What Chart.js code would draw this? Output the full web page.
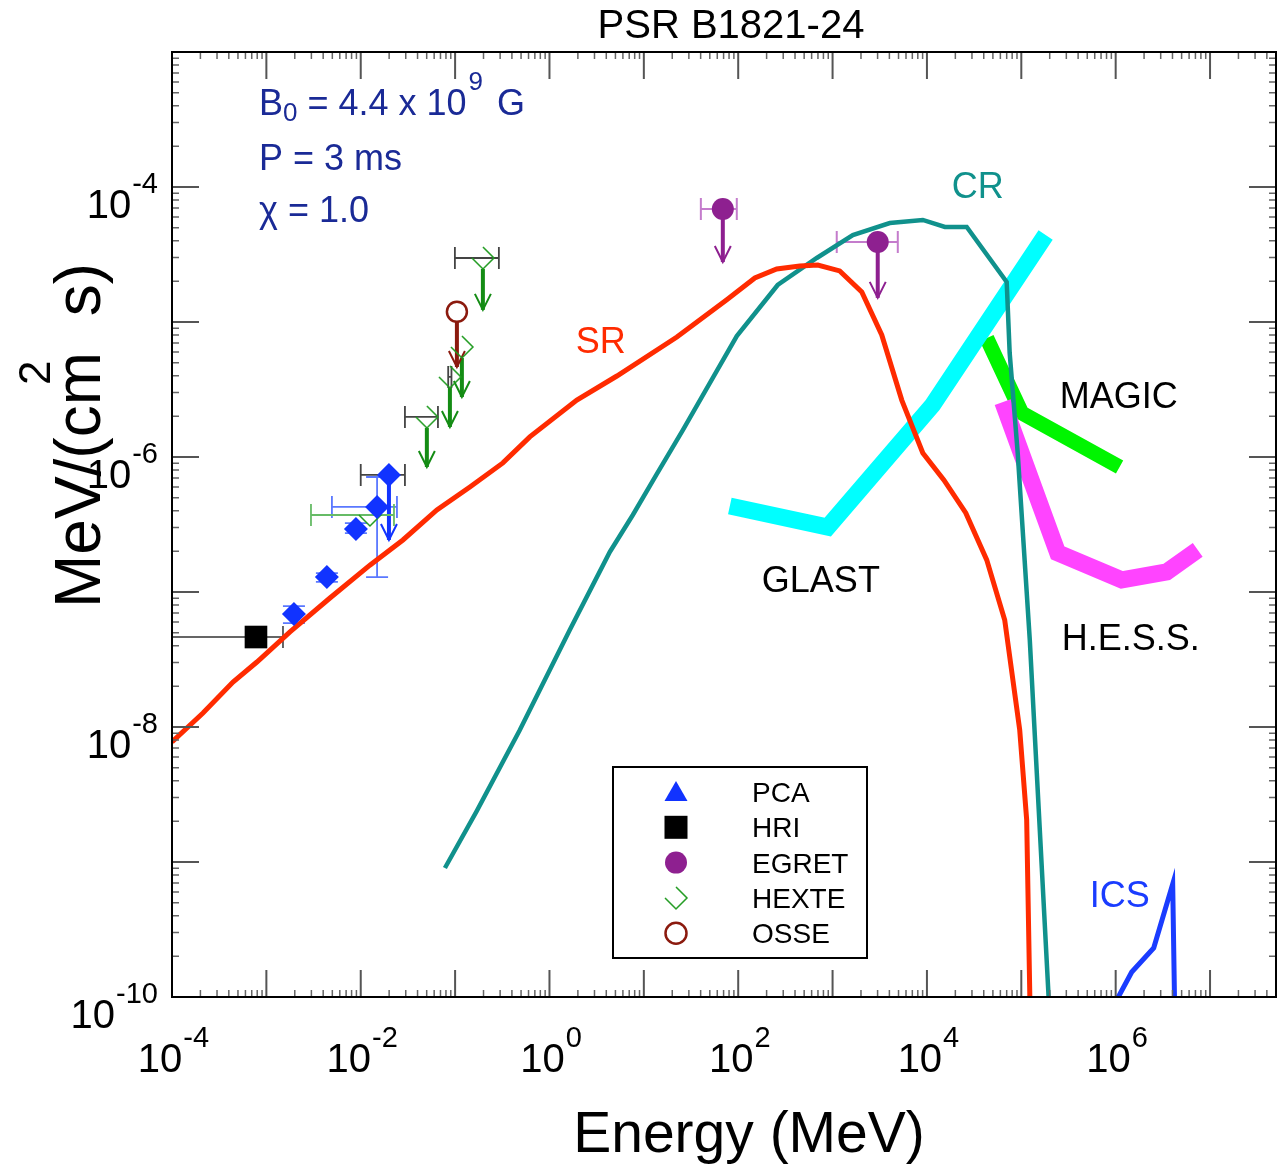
<!DOCTYPE html>
<html>
<head>
<meta charset="utf-8">
<title>PSR B1821-24</title>
<script src="https://cdn.jsdelivr.net/npm/chart.js@4.4.1/dist/chart.umd.min.js"></script>
<style>
  html, body { margin: 0; padding: 0; background: #fff; overflow: hidden; }
  canvas { display: block; }
</style>
</head>
<body>
<canvas id="sedChart" width="1278" height="1168"></canvas>
<script>
const FONT = '"Liberation Sans", Arial, Helvetica, sans-serif';

// energy in MeV, flux in MeV/(cm^2 s)
const srEnergy = [1.0e-4, 2.13e-4, 4.43e-4, 7.94e-4, 1.78e-3, 4.72e-3, 1.25e-2, 2.8e-2, 6.41e-2, 0.1435, 0.321, 0.619,
  1.95, 5.18, 22.4, 75.7, 150, 256, 450, 697, 1190, 2040, 3320, 5410, 9040, 1.51e4, 2.58e4, 4.3e4, 6.67e4, 9.62e4, 1.14e5, 1.26e5];
const srFlux = [7.74e-9, 1.27e-8, 2.15e-8, 3.03e-8, 5.06e-8, 9.03e-8, 1.58e-7, 2.43e-7, 4.05e-7, 6.0e-7, 9.04e-7, 1.41e-6,
  2.64e-6, 3.98e-6, 7.74e-6, 1.46e-5, 2.12e-5, 2.47e-5, 2.6e-5, 2.64e-5, 2.39e-5, 1.67e-5, 8.02e-6, 2.64e-6, 1.07e-6, 6.76e-7,
  3.85e-7, 1.73e-7, 6.21e-8, 9.5e-9, 2.05e-9, 4.1e-11];

const crEnergy = [0.078, 0.17, 0.485, 1.64, 4.36, 7.64, 13.7, 25.9, 53.8, 96.6, 262, 680, 1640, 4040, 9040, 1.55e4, 2.64e4,
  7.0e4, 7.53e4, 9.16e4, 1.23e5, 1.98e5];
const crFlux = [9.03e-10, 2.39e-9, 9.5e-9, 5.24e-8, 1.98e-7, 3.72e-7, 7.48e-7, 1.58e-6, 3.85e-6, 7.87e-6, 1.88e-5, 2.98e-5,
  4.41e-5, 5.41e-5, 5.7e-5, 5.06e-5, 5.06e-5, 1.98e-5, 5.89e-6, 1.07e-6, 4.41e-8, 8e-11];

const icsEnergy = [1.0e6, 1.48e6, 2.53e6, 4.02e6, 4.22e6];
const icsFlux = [9.2e-11, 1.53e-10, 2.31e-10, 6.87e-10, 8e-11];

// telescope sensitivities
const glastEnergy = [81.5, 889, 1.15e4, 1.81e5];
const glastFlux = [4.34e-7, 3.03e-7, 2.43e-6, 4.41e-5];
const magicEnergy = [4.3e4, 1.01e5, 1.1e6];
const magicFlux = [7.6e-6, 2.12e-6, 8.43e-7];
const hessEnergy = [6.35e4, 2.43e5, 1.16e6, 3.47e6, 7.4e6];
const hessFlux = [2.55e-6, 1.95e-7, 1.23e-7, 1.41e-7, 2.05e-7];

// measurements (limit = tip of the upper-limit arrow)
const pcaEnergy = [1.96e-3, 4.38e-3, 8.89e-3, 1.49e-2, 1.99e-2];
const pcaFlux = [6.87e-8, 1.29e-7, 2.93e-7, 4.27e-7, 7.36e-7];
const pcaEnergyLo = [null, null, null, 4.95e-3, 1.0e-2];
const pcaEnergyHi = [null, null, null, 2.42e-2, 2.94e-2];
const pcaFluxLo = [5.89e-8, 1.19e-7, 2.73e-7, 1.29e-7, null];
const pcaFluxHi = [7.87e-8, 1.38e-7, 3.24e-7, 7.11e-7, null];
const pcaLimit = [null, null, null, null, 2.43e-7];

const hriEnergy = [7.76e-4];
const hriFlux = [4.64e-8];
const hriEnergyLo = [1.0e-4];
const hriEnergyHi = [1.5e-3];

const egretEnergy = [68.7, 3010];
const egretFlux = [6.87e-5, 3.92e-5];
const egretEnergyLo = [40.2, 1107];
const egretEnergyHi = [96.6, 4910];
const egretLimit = [2.78e-5, 1.51e-5];

const hexteEnergy = [0.197, 0.118, 0.0881, 0.0502, 0.0125];
const hexteFlux = [2.98e-5, 6.53e-6, 3.92e-6, 1.98e-6, 3.72e-7];
const hexteEnergyLo = [0.0995, null, 0.0845, 0.0294, 2.97e-3];
const hexteEnergyHi = [0.291, null, 0.0915, 0.0658, 0.0225];
const hexteLimit = [1.23e-5, 2.78e-6, 1.67e-6, 8.43e-7, null];

const osseEnergy = [0.1045];
const osseFlux = [1.19e-5];
const osseLimit = [4.64e-6];

// curve labels: [text, energy, flux at baseline]
const curveLabels = [
  ["SR", 1.9, 5.89e-6, "#ff2b00"],
  ["CR", 1.83e4, 8.3e-5, "#10918c"],
  ["MAGIC", 2.55e5, 2.31e-6, "#000"],
  ["GLAST", 178, 1.0e-7, "#000"],
  ["H.E.S.S.", 2.68e5, 3.72e-8, "#000"],
  ["ICS", 5.31e5, 4.64e-10, "#1a3cff"],
];

const xLabelExponents = [-4, -2, 0, 2, 4, 6];
const yLabelExponents = [-10, -8, -6, -4];

const curve = (xs, ys) => xs.map((x, i) => ({ x, y: ys[i] }));

const measured = (xs, ys, err) =>
  xs.map((x, i) => ({
    x,
    y: ys[i],
    xLo: err.xLo ? err.xLo[i] : null,
    xHi: err.xHi ? err.xHi[i] : null,
    yLo: err.yLo ? err.yLo[i] : null,
    yHi: err.yHi ? err.yHi[i] : null,
    limit: err.limit ? err.limit[i] : null,
  }));

// open diamond with its upper-left side missing
const hexteGlyph = (() => {
  const c = document.createElement("canvas");
  c.width = c.height = 26;
  const g = c.getContext("2d");
  g.strokeStyle = "#1f9a1f";
  g.lineWidth = 1.5;
  g.beginPath();
  g.moveTo(2, 13);
  g.lineTo(13, 24);
  g.lineTo(24, 13);
  g.lineTo(13, 2);
  g.stroke();
  return c;
})();

const lineSet = (label, xs, ys, color, width) => ({
  label,
  data: curve(xs, ys),
  showLine: true,
  borderColor: color,
  borderWidth: width,
  pointRadius: 0,
  fill: false,
  tension: 0,
  borderJoinStyle: "miter",
});

// error bars and upper-limit arrows, drawn under everything else
const errorBarPlugin = {
  id: "errorBars",
  beforeDatasetsDraw(chart) {
    const { ctx } = chart;
    const xs = chart.scales.x,
      ys = chart.scales.y;
    const cap = 11;

    chart.data.datasets.forEach((ds) => {
      const eb = ds.errorBars;
      if (!eb) return;
      ds.data.forEach((p) => {
        const px = xs.getPixelForValue(p.x),
          py = ys.getPixelForValue(p.y);
        ctx.save();
        ctx.lineWidth = eb.width;
        ctx.lineCap = "butt";

        if (p.xLo != null) {
          ctx.strokeStyle = p.limit != null ? eb.limitColor : eb.color;
          const x0 = xs.getPixelForValue(p.xLo),
            x1 = xs.getPixelForValue(p.xHi);
          ctx.beginPath();
          ctx.moveTo(x0, py);
          ctx.lineTo(x1, py);
          ctx.moveTo(x0, py - cap);
          ctx.lineTo(x0, py + cap);
          ctx.moveTo(x1, py - cap);
          ctx.lineTo(x1, py + cap);
          ctx.stroke();
        }
        if (p.yLo != null) {
          ctx.strokeStyle = eb.color;
          const y0 = ys.getPixelForValue(p.yLo),
            y1 = ys.getPixelForValue(p.yHi);
          ctx.beginPath();
          ctx.moveTo(px, y0);
          ctx.lineTo(px, y1);
          ctx.moveTo(px - cap, y0);
          ctx.lineTo(px + cap, y0);
          ctx.moveTo(px - cap, y1);
          ctx.lineTo(px + cap, y1);
          ctx.stroke();
        }
        if (p.limit != null) {
          const tip = ys.getPixelForValue(p.limit);
          ctx.strokeStyle = eb.arrowColor;
          ctx.lineWidth = 4;
          ctx.beginPath();
          ctx.moveTo(px, py + (eb.gap || 0));
          ctx.lineTo(px, tip);
          ctx.stroke();
          ctx.lineWidth = 2;
          ctx.beginPath();
          ctx.moveTo(px - 8, tip - 16);
          ctx.lineTo(px, tip);
          ctx.lineTo(px + 8, tip - 16);
          ctx.stroke();
        }
        ctx.restore();
      });
    });
  },
};

const tickValues = (min, max) => {
  const out = [];
  for (let d = Math.floor(Math.log10(min)); d <= Math.ceil(Math.log10(max)); d++) {
    for (let m = 1; m <= 9; m++) {
      const v = m * Math.pow(10, d);
      if (v >= min * 0.999 && v <= max * 1.001) out.push({ v, major: m === 1 });
    }
  }
  return out;
};

const powerLabel = (ctx, exp, x, y, align) => {
  ctx.font = `40px ${FONT}`;
  const wb = ctx.measureText("10").width;
  ctx.font = `29px ${FONT}`;
  const ws = ctx.measureText(String(exp)).width;
  const x0 = align === "center" ? x - (wb + ws) / 2 : x - wb - ws;
  ctx.textAlign = "left";
  ctx.font = `40px ${FONT}`;
  ctx.fillText("10", x0, y);
  ctx.font = `29px ${FONT}`;
  ctx.fillText(String(exp), x0 + wb + 1, y - 25);
};

// frame, inward ticks on all four sides, labels, titles and key
const axisFramePlugin = {
  id: "axisFrame",
  afterDraw(chart) {
    const { ctx, chartArea: a } = chart;
    const xs = chart.scales.x,
      ys = chart.scales.y;
    ctx.save();

    tickValues(xs.min, xs.max).forEach(({ v, major }) => {
      const px = xs.getPixelForValue(v);
      const len = major ? 27 : 7;
      ctx.strokeStyle = major ? "#555" : "#666";
      ctx.lineWidth = major ? 2 : 1.5;
      ctx.beginPath();
      ctx.moveTo(px, a.bottom);
      ctx.lineTo(px, a.bottom - len);
      ctx.moveTo(px, a.top);
      ctx.lineTo(px, a.top + len);
      ctx.stroke();
    });
    tickValues(ys.min, ys.max).forEach(({ v, major }) => {
      const py = ys.getPixelForValue(v);
      const len = major ? 27 : 7;
      ctx.strokeStyle = major ? "#555" : "#666";
      ctx.lineWidth = major ? 2 : 1.5;
      ctx.beginPath();
      ctx.moveTo(a.left, py);
      ctx.lineTo(a.left + len, py);
      ctx.moveTo(a.right, py);
      ctx.lineTo(a.right - len, py);
      ctx.stroke();
    });

    ctx.strokeStyle = "#000";
    ctx.lineWidth = 2;
    ctx.strokeRect(a.left, a.top, a.right - a.left, a.bottom - a.top);

    ctx.fillStyle = "#000";
    ctx.textBaseline = "alphabetic";
    xLabelExponents.forEach((e) => powerLabel(ctx, e, xs.getPixelForValue(Math.pow(10, e)) + 1, a.bottom + 75, "center"));
    yLabelExponents.forEach((e) => powerLabel(ctx, e, a.left - 15, ys.getPixelForValue(Math.pow(10, e)) + 31, "right"));

    // titles
    ctx.textAlign = "center";
    ctx.font = `40px ${FONT}`;
    ctx.fillText("PSR B1821-24", a.left + 559, 38);
    ctx.font = `57px ${FONT}`;
    ctx.fillText("Energy (MeV)", a.left + 577, a.bottom + 155);

    ctx.save();
    ctx.translate(a.left - 72, 608);
    ctx.rotate(-Math.PI / 2);
    ctx.textAlign = "left";
    ctx.font = `64px ${FONT}`;
    ctx.fillText("MeV/(cm", 0, 0);
    const wUnit = ctx.measureText("MeV/(cm").width;
    const wTail = ctx.measureText(" s)").width;
    ctx.fillText(" s)", 345 - wTail, 0);
    ctx.font = `44px ${FONT}`;
    ctx.fillText("2", wUnit - 33, -50);
    ctx.restore();

    // model parameters
    ctx.fillStyle = "#1a2a96";
    ctx.textAlign = "left";
    let x = a.left + 87;
    ctx.font = `36px ${FONT}`;
    ctx.fillText("B", x, 115);
    x += ctx.measureText("B").width;
    ctx.font = `26px ${FONT}`;
    ctx.fillText("0", x, 121);
    x += ctx.measureText("0").width;
    ctx.font = `36px ${FONT}`;
    ctx.fillText(" = 4.4 x 10", x, 115);
    x += ctx.measureText(" = 4.4 x 10").width;
    ctx.font = `26px ${FONT}`;
    ctx.fillText("9", x + 2, 90);
    x += ctx.measureText("9").width + 6;
    ctx.font = `36px ${FONT}`;
    ctx.fillText(" G", x, 115);
    ctx.fillText("P = 3 ms", a.left + 87, 170);
    ctx.fillText("\u03c7 = 1.0", a.left + 87, 222);

    // curve labels
    ctx.font = `36px ${FONT}`;
    curveLabels.forEach(([text, e, f, color]) => {
      ctx.fillStyle = color;
      ctx.fillText(text, xs.getPixelForValue(e), ys.getPixelForValue(f));
    });

    // key
    const lx = a.left + 441,
      ly = a.top + 715;
    ctx.fillStyle = "#fff";
    ctx.fillRect(lx, ly, 254, 191);
    ctx.strokeStyle = "#000";
    ctx.lineWidth = 2;
    ctx.strokeRect(lx, ly, 254, 191);
    const sx = lx + 63,
      tx = lx + 139;
    const rows = ["PCA", "HRI", "EGRET", "HEXTE", "OSSE"];
    rows.forEach((name, i) => {
      const cy = ly + 25 + i * 35.3;
      if (i === 0) {
        ctx.fillStyle = "#1133ff";
        ctx.beginPath();
        ctx.moveTo(sx, cy - 11);
        ctx.lineTo(sx + 11.5, cy + 9);
        ctx.lineTo(sx - 11.5, cy + 9);
        ctx.closePath();
        ctx.fill();
      } else if (i === 1) {
        ctx.fillStyle = "#000";
        ctx.fillRect(sx - 11.5, cy - 11.5, 23, 23);
      } else if (i === 2) {
        ctx.fillStyle = "#8e2090";
        ctx.beginPath();
        ctx.arc(sx, cy, 11, 0, Math.PI * 2);
        ctx.fill();
      } else if (i === 3) {
        ctx.drawImage(hexteGlyph, sx - 13, cy - 13);
      } else {
        ctx.strokeStyle = "#8b1a0e";
        ctx.lineWidth = 2.5;
        ctx.beginPath();
        ctx.arc(sx, cy, 10.5, 0, Math.PI * 2);
        ctx.stroke();
      }
      ctx.fillStyle = "#000";
      ctx.font = `28px ${FONT}`;
      ctx.fillText(name, tx, cy + 10);
    });

    ctx.restore();
  },
};

new Chart(document.getElementById("sedChart"), {
  type: "scatter",
  data: {
    datasets: [
      {
        label: "PCA",
        data: measured(pcaEnergy, pcaFlux, {
          xLo: pcaEnergyLo, xHi: pcaEnergyHi, yLo: pcaFluxLo, yHi: pcaFluxHi, limit: pcaLimit,
        }),
        pointStyle: "rectRot",
        pointRadius: 12,
        pointBorderWidth: 0,
        backgroundColor: "#1133ff",
        errorBars: { color: "#5a78ff", limitColor: "#444", arrowColor: "#1133ff", width: 1.8 },
      },
      {
        label: "HRI",
        data: measured(hriEnergy, hriFlux, { xLo: hriEnergyLo, xHi: hriEnergyHi }),
        pointStyle: "rect",
        pointRadius: 16,
        pointBorderWidth: 0,
        backgroundColor: "#000",
        errorBars: { color: "#333", limitColor: "#333", arrowColor: "#000", width: 1.5 },
      },
      {
        label: "EGRET",
        data: measured(egretEnergy, egretFlux, { xLo: egretEnergyLo, xHi: egretEnergyHi, limit: egretLimit }),
        pointStyle: "circle",
        pointRadius: 11,
        pointBorderWidth: 0,
        backgroundColor: "#8e2090",
        errorBars: { color: "#c47ccc", limitColor: "#c47ccc", arrowColor: "#8e2090", width: 2 },
      },
      {
        label: "HEXTE",
        data: measured(hexteEnergy, hexteFlux, { xLo: hexteEnergyLo, xHi: hexteEnergyHi, limit: hexteLimit }),
        pointStyle: hexteGlyph,
        pointRadius: 12,
        errorBars: { color: "#66bb66", limitColor: "#444", arrowColor: "#148c14", width: 1.8, gap: 11 },
      },
      {
        label: "OSSE",
        data: measured(osseEnergy, osseFlux, { limit: osseLimit }),
        pointStyle: "circle",
        pointRadius: 10,
        pointBorderWidth: 2.5,
        borderColor: "#8b1a0e",
        backgroundColor: "rgba(255,255,255,0)",
        errorBars: { color: "#8b1a0e", limitColor: "#8b1a0e", arrowColor: "#8b1a0e", width: 2, gap: 10 },
      },
      lineSet("SR", srEnergy, srFlux, "#ff2b00", 5),
      lineSet("CR", crEnergy, crFlux, "#10918c", 4.5),
      lineSet("ICS", icsEnergy, icsFlux, "#1a3cff", 5),
      lineSet("GLAST", glastEnergy, glastFlux, "#00ffff", 17),
      lineSet("H.E.S.S.", hessEnergy, hessFlux, "#ff44ff", 17),
      lineSet("MAGIC", magicEnergy, magicFlux, "#00f500", 15),
    ],
  },
  options: {
    responsive: false,
    animation: false,
    devicePixelRatio: 1,
    events: [],
    layout: { autoPadding: false, padding: { left: 172, right: 2, top: 52, bottom: 171 } },
    scales: {
      x: { type: "logarithmic", min: 1e-4, max: 5e7, bounds: "data", display: false },
      y: { type: "logarithmic", min: 1e-10, max: 1e-3, bounds: "data", display: false },
    },
    plugins: {
      legend: { display: false },
      tooltip: { enabled: false },
    },
  },
  plugins: [errorBarPlugin, axisFramePlugin],
});
</script>
</body>
</html>
